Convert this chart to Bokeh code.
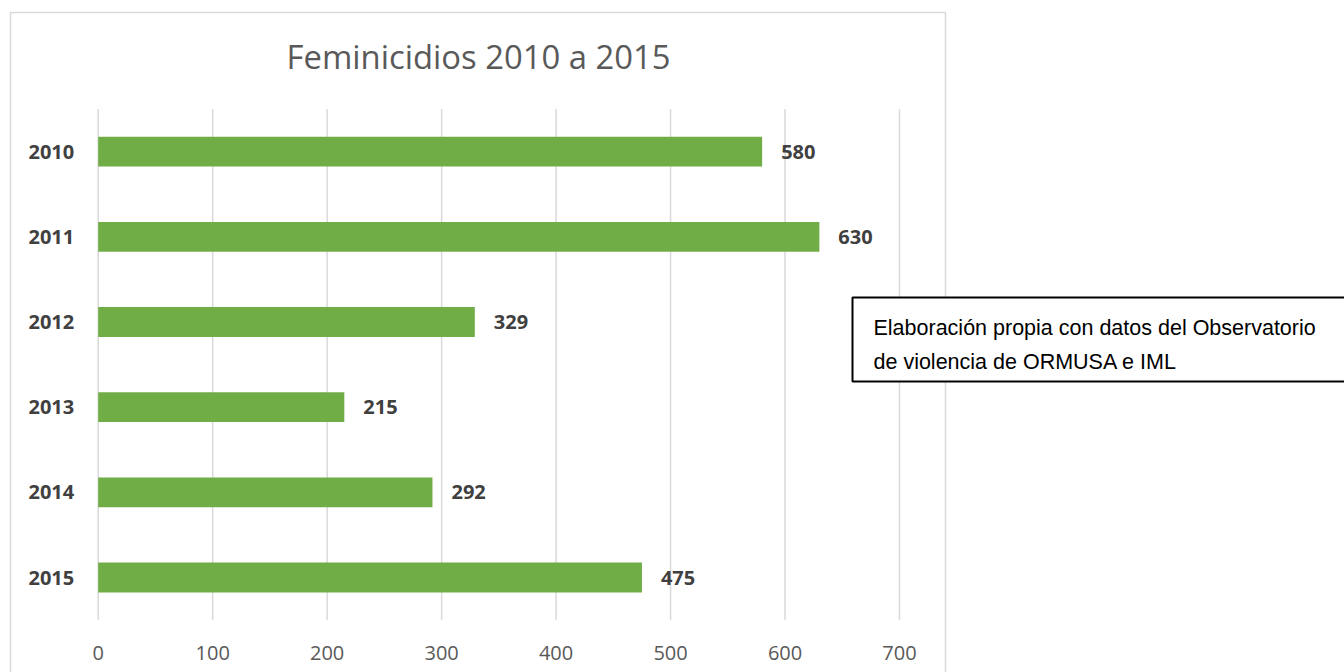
from bokeh.plotting import figure
from bokeh.models import ColumnDataSource, Range1d, Label, BoxAnnotation
from bokeh.core.properties import value
from bokeh.embed import file_html
from bokeh.resources import INLINE

years = ["2010", "2011", "2012", "2013", "2014", "2015"]
feminicidios = [580, 630, 329, 215, 292, 475]
x_ticks = [0, 100, 200, 300, 400, 500, 600, 700]
title_text = "Feminicidios 2010 a 2015"
note_lines = ["Elaboración propia con datos del Observatorio", "de violencia de ORMUSA e IML"]

W, H = 1344, 672
ypos = list(range(len(years)))  # 2010 on top

src = ColumnDataSource(dict(year=years, y=ypos, val=feminicidios, lbl=[str(v) for v in feminicidios]))
tick_src = ColumnDataSource(dict(x=x_ticks, lbl=[str(t) for t in x_ticks],
                                 y0=[-0.5] * len(x_ticks), y1=[len(years) - 0.5] * len(x_ticks)))

# pixel mapping: x 0 -> 97.7px, 700 -> 899px ; categories 85.16px apart, 2010 centred at 151.2px
xs = (899.0 - 97.7) / 700.0
ys = (577.0 - 151.2) / 5.0
x_range = Range1d(-97.7 / xs, (W - 97.7) / xs)
y_range = Range1d(5 + (H - 577.0) / ys, -151.2 / ys)

p = figure(width=W, height=H, output_backend="svg", toolbar_location=None,
           x_range=x_range, y_range=y_range,
           x_axis_location=None, y_axis_location=None,
           min_border=0, min_border_left=0, min_border_right=0,
           min_border_top=0, min_border_bottom=0)
p.outline_line_color = None
p.background_fill_color = "white"
p.border_fill_color = "white"
p.xgrid.visible = False
p.ygrid.visible = False

# vertical gridlines
p.segment(x0="x", y0="y0", x1="x", y1="y1", source=tick_src, line_color="#d9d9d9", line_width=1.5)

# bars
p.hbar(y="y", right="val", left=0, height=0.35, source=src, color="#70ad47", line_color=None)

# value labels
p.text(x="val", y="y", text="lbl", source=src, x_offset=19, text_baseline="middle",
       text_align="left", text_font=value("Open Sans"), text_font_style="bold",
       text_font_size="20px", text_color="#404040")

# category labels (y axis)
p.text(x=0, y="y", text="year", source=src, x_offset=-24, text_baseline="middle",
       text_align="right", text_font=value("Open Sans"), text_font_style="bold",
       text_font_size="20px", text_color="#404040")

# x tick labels
p.text(x="x", y="y1", text="lbl", source=tick_src, y_offset=33, text_baseline="middle",
       text_align="center", text_font=value("Open Sans"),
       text_font_size="20px", text_color="#595959")

# outer chart border
p.add_layout(BoxAnnotation(left=10, right=945, top=H - 12, bottom=-20,
                           left_units="screen", right_units="screen",
                           top_units="screen", bottom_units="screen",
                           fill_color=None, fill_alpha=0, line_color="#d9d9d9",
                           line_alpha=1, line_width=1.5))

p.add_layout(Label(x=478, y=H - 56, x_units="screen", y_units="screen", text=title_text,
                   text_align="center", text_baseline="middle", text_font="Open Sans",
                   text_font_size="32.8px", text_color="#595959"))

# note box
p.add_layout(BoxAnnotation(left=852, right=1400, top=H - 297, bottom=H - 381,
                           left_units="screen", right_units="screen",
                           top_units="screen", bottom_units="screen",
                           fill_color="white", fill_alpha=1, line_color="black",
                           line_alpha=1, line_width=2))
for i, line in enumerate(note_lines):
    p.add_layout(Label(x=873, y=H - 327 - 34.5 * i, x_units="screen", y_units="screen", text=line,
                       text_align="left", text_baseline="alphabetic", text_font="Liberation Sans",
                       text_font_size="21.5px", text_color="black"))

open("out.html", "w").write(file_html(p, INLINE))
